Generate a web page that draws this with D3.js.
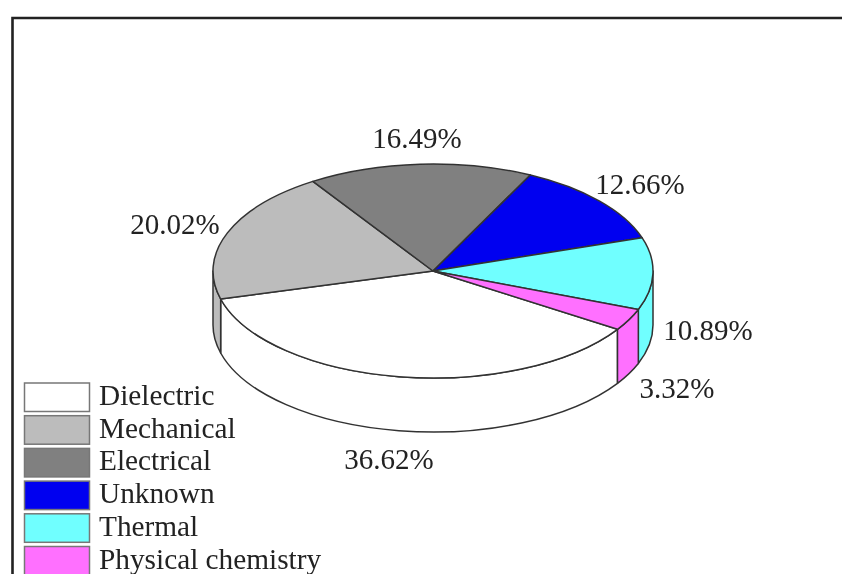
<!DOCTYPE html>
<html><head><meta charset="utf-8">
<style>html,body{margin:0;padding:0;background:#fff}svg{display:block}text{font-family:"Liberation Serif",serif;fill:#222}</style>
<script src="https://cdn.jsdelivr.net/npm/d3@7/dist/d3.min.js"></script>
</head><body>
<script>
const categories = ["Dielectric","Mechanical","Electrical","Unknown","Thermal","Physical chemistry"];
const values = [36.62,20.02,16.49,12.66,10.89,3.32];
const valueLabels = ["36.62%","20.02%","16.49%","12.66%","10.89%","3.32%"];
const colors = ["#ffffff","#bcbcbc","#808080","#0000f0","#70ffff","#ff70ff"];

const W=842,H=574;
const cx=433,cy=271,rx=220,ry=107,depth=54;
const startDeg=123;
const labelAnchors=[[389,469],[175,234],[417,148],[640,194],[708,340],[677,398]];

const svg=d3.select("body").append("svg").attr("width",W).attr("height",H).attr("viewBox",`0 0 ${W} ${H}`);
const defs=svg.append("defs");
defs.append("filter").attr("id","soft").attr("x","-5%").attr("y","-5%").attr("width","110%").attr("height","110%")
  .append("feGaussianBlur").attr("stdDeviation",0.7);
const g=svg.append("g").attr("filter","url(#soft)");

g.append("path").attr("d",`M12.5,${H+10} V18 H${W+10}`).attr("fill","none").attr("stroke","#222").attr("stroke-width",2.6);

const pie=d3.pie().sort(null).value(d=>d).startAngle(startDeg*Math.PI/180).endAngle((startDeg+360)*Math.PI/180);
const arcs=pie(values);
const px=a=>cx+rx*Math.sin(a), py=a=>cy-ry*Math.cos(a);
const edge="#333";

// side walls: only the front half of the disc (angles 90° to 270°) is visible
const lo=Math.PI/2, hi=3*Math.PI/2;
arcs.forEach((d,i)=>{
  [0,2*Math.PI].forEach(shift=>{
    const a0=Math.max(d.startAngle-shift,lo), a1=Math.min(d.endAngle-shift,hi);
    if(a1<=a0) return;
    const large=(a1-a0)>Math.PI?1:0;
    const p=`M${px(a0)},${py(a0)}A${rx},${ry} 0 ${large} 1 ${px(a1)},${py(a1)}`+
            `L${px(a1)},${py(a1)+depth}A${rx},${ry} 0 ${large} 0 ${px(a0)},${py(a0)+depth}Z`;
    g.append("path").attr("d",p).attr("fill",colors[i]).attr("stroke",edge).attr("stroke-width",1.5).attr("stroke-linejoin","round");
  });
});

// top face: d3.arc flattened with a vertical scale
const arc=d3.arc().innerRadius(0).outerRadius(rx);
g.append("g").attr("transform",`translate(${cx},${cy}) scale(1,${ry/rx})`)
 .selectAll("path").data(arcs).join("path")
  .attr("d",arc).attr("fill",(d,i)=>colors[i])
  .attr("stroke",edge).attr("stroke-width",1.5).attr("vector-effect","non-scaling-stroke").attr("stroke-linejoin","round");

// value labels
g.append("g").selectAll("text").data(valueLabels).join("text")
  .attr("x",(d,i)=>labelAnchors[i][0]).attr("y",(d,i)=>labelAnchors[i][1])
  .attr("text-anchor","middle").attr("font-size",29).text(d=>d);

// legend
const legendY=d3.scaleBand().domain(categories).range([383,383+6*32.7]);
const lg=g.append("g").selectAll("g").data(categories).join("g").attr("transform",d=>`translate(0,${legendY(d)})`);
lg.append("rect").attr("x",24.5).attr("y",0).attr("width",65).attr("height",28.5)
  .attr("fill",(d,i)=>colors[i]).attr("stroke","#777").attr("stroke-width",1.5);
lg.append("text").attr("x",99).attr("y",22).attr("font-size",29.3).text(d=>d);
</script>
</body></html>
